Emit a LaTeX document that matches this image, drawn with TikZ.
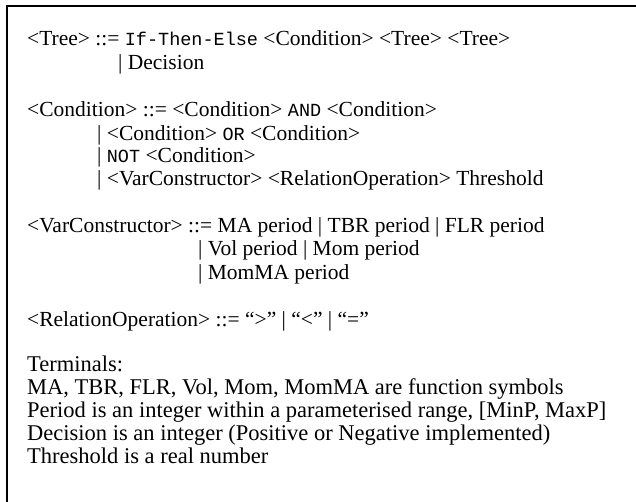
\documentclass[tikz,border=0pt]{standalone}
\usepackage{fontspec}
\setmainfont{Liberation Serif}
\setmonofont{Liberation Mono}
% grammar keywords in a typewriter face, a little smaller than the body text
\newcommand{\kw}[1]{{\fontsize{18.5}{23}\ttfamily #1}}
\begin{document}
\begin{tikzpicture}[x=1pt,y=-1pt,
  rule/.style={anchor=base west,inner sep=0pt,font=\fontsize{21.5}{23}\selectfont},
  note/.style={anchor=base west,inner sep=0pt,font=\fontsize{22.5}{23}\selectfont}]
\useasboundingbox (0,0) rectangle (636,502);
% frame (left and top edges)
\draw[line width=2pt] (7,502) -- (7,6) -- (636,6);
% <Tree>
\node[rule] (t1) at (27,46) {<Tree> ::= \kw{If-Then-Else} <Condition> <Tree> <Tree>};
\node[rule] (t2) at (118,70) {| Decision};
% <Condition>
\node[rule] (c1) at (27,117) {<Condition> ::= <Condition> \kw{AND} <Condition>};
\node[rule] (c2) at (97,141) {| <Condition> \kw{OR} <Condition>};
\node[rule] (c3) at (97,163) {| \kw{NOT} <Condition>};
\node[rule] (c4) at (97,186) {| <VarConstructor> <RelationOperation> Threshold};
% <VarConstructor>
\node[rule] (v1) at (27,233) {<VarConstructor> ::= MA period | TBR period | FLR period};
\node[rule] (v2) at (198,256) {| Vol period | Mom period};
\node[rule] (v3) at (198,279) {| MomMA period};
% <RelationOperation>
\node[rule] (r1) at (27,326) {<RelationOperation> ::= “>” | “<” | “=”};
% terminals
\node[note] (x0) at (27,371) {Terminals:};
\node[note] (x1) at (27,394) {MA, TBR, FLR, Vol, Mom, MomMA are function symbols};
\node[note] (x2) at (27,417) {Period is an integer within a parameterised range, [MinP, MaxP]};
\node[note] (x3) at (27,440) {Decision is an integer (Positive or Negative implemented)};
\node[note] (x4) at (27,463) {Threshold is a real number};
\end{tikzpicture}
\end{document}
